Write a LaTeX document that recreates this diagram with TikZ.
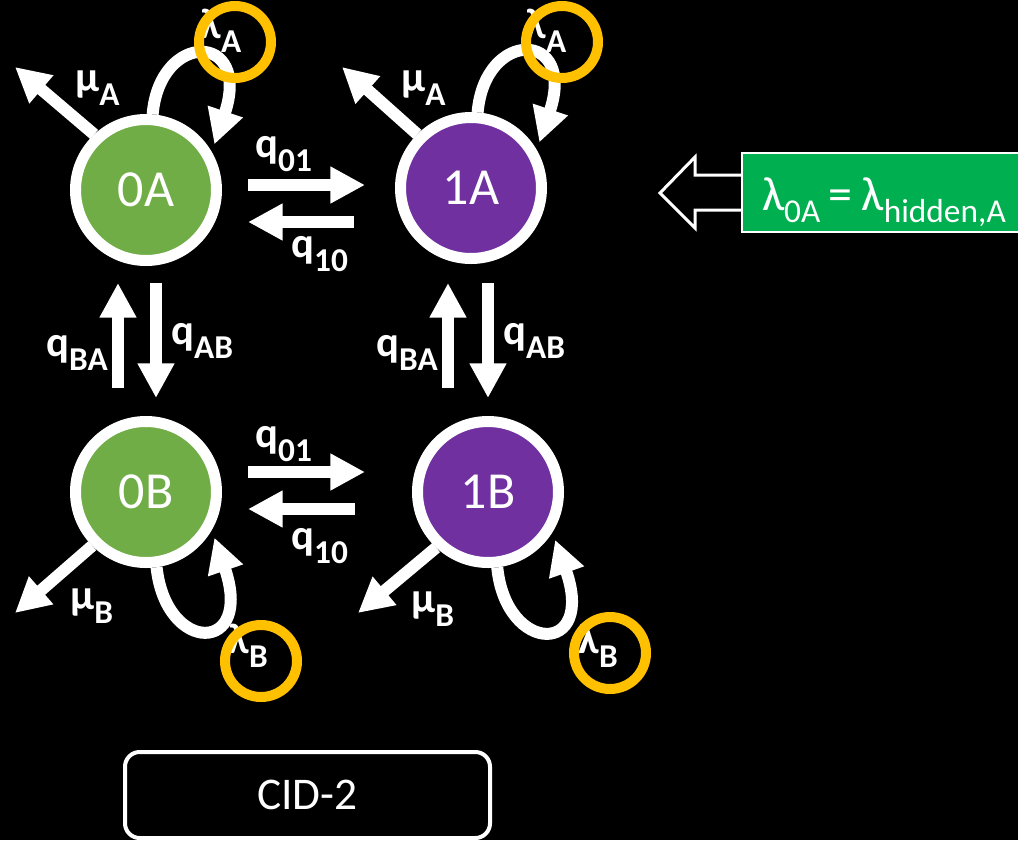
\documentclass[tikz,border=0pt]{standalone}
\usepackage{fontspec}
\setmainfont{Carlito}
\usetikzlibrary{arrows.meta}
\definecolor{stgreen}{HTML}{70AD47}
\definecolor{stpurple}{HTML}{7030A0}
\definecolor{ringgold}{HTML}{FFC000}
\definecolor{boxgreen}{HTML}{00B050}
\newcommand{\lo}[2][11pt]{\raisebox{-#1}{\fontsize{25}{29}\selectfont #2}}

\begin{document}
\begin{tikzpicture}[x=0.75pt,y=-0.75pt,
  statenode/.style={circle,draw=white,line width=8.25pt,minimum size=105.75pt,inner sep=0pt,
    text=white,font=\fontsize{39}{45}\selectfont},
  rate/.style={white,line width=9pt,-{Triangle[length=26pt,width=26pt]}},
  lab/.style={text=white,font=\bfseries\fontsize{32}{38}\selectfont,inner sep=0pt,anchor=base west},
  goldring/.style={draw=ringgold,line width=7.5pt},
  hidbox/.style={draw=white,line width=1.5pt,fill=boxgreen,text=white,anchor=west,
    font=\fontsize{36}{42}\selectfont,text height=42.75pt,text depth=16.5pt,inner ysep=0pt,
    inner xsep=15pt,text width=200pt,align=left},
  cidbox/.style={draw=white,line width=3pt,rounded corners=11pt,minimum width=273.75pt,
    minimum height=64.5pt,text=white,font=\fontsize{34}{40}\selectfont}]
  \useasboundingbox (0,0) rectangle (1018,840);
  \clip (0,0) rectangle (1018,840);
  \fill[black] (0,0) rectangle (1018,840);

  % states
  \node[statenode,fill=stgreen] (s0A) at (146,190) {0A};
  \node[statenode,fill=stpurple] (s1A) at (471,188) {1A};
  \node[statenode,fill=stgreen] (s0B) at (146,492) {0B};
  \node[statenode,fill=stpurple] (s1B) at (488,492) {1B};

  % switching between 0 and 1
  \draw[rate] ([shift={(26,-5)}]s0A.east) -- ([shift={(-30,-3)}]s1A.west);
  \draw[rate] ([shift={(-41,34)}]s1A.west) -- ([shift={(26,32)}]s0A.east);
  \draw[rate] ([shift={(26,-20)}]s0B.east) -- ([shift={(-47,-20)}]s1B.west);
  \draw[rate] ([shift={(-57,17)}]s1B.west) -- ([shift={(26,17)}]s0B.east);
  \node[lab] (q01a) at (255,157) {q\lo{01}};
  \node[lab] (q10a) at (291,257) {q\lo{10}};
  \node[lab] (q01b) at (255,447) {q\lo{01}};
  \node[lab] (q10b) at (291,549) {q\lo{10}};

  % switching between A and B
  \draw[rate] ([shift={(-28,-28)}]s0B.north) -- ([shift={(-28,17)}]s0A.south);
  \draw[rate] ([shift={(10,17)}]s0A.south) -- ([shift={(10,-18)}]s0B.north);
  \draw[rate] ([shift={(-40,-28)}]s1B.north) -- ([shift={(-23,19)}]s1A.south);
  \draw[rate] ([shift={(17,19)}]s1A.south) -- ([shift={(0,-18)}]s1B.north);
  \node[lab] (qBA0) at (46,356) {q\lo{BA}};
  \node[lab] (qAB0) at (171,344) {q\lo{AB}};
  \node[lab] (qBA1) at (376,356) {q\lo{BA}};
  \node[lab] (qAB1) at (503,344) {q\lo{AB}};

  % extinction
  \coordinate (outA0) at (15,67);
  \coordinate (outA1) at (342,67);
  \coordinate (outB0) at (15,613);
  \coordinate (outB1) at (358,613);
  \draw[rate] (s0A.133) -- (outA0);
  \draw[rate] (s1A.135) -- (outA1);
  \draw[rate] (s0B.225) -- (outB0);
  \draw[rate] (s1B.227) -- (outB1);
  \node[lab] (muA0) at (75,91) {μ\lo{A}};
  \node[lab] (muA1) at (401,91) {μ\lo{A}};
  \node[lab] (muB0) at (70,609) {μ\lo{B}};
  \node[lab] (muB1) at (411,612) {μ\lo{B}};

  % speciation
  \draw[rate,shorten >=6pt] (s0A.85) .. controls (160,30) and (252,32) .. (s0A.30);
  \draw[rate,shorten >=6pt] (s1A.85) .. controls (485,28) and (577,30) .. (s1A.30);
  \draw[rate,shorten >=6pt] (s0B.-82) .. controls (166,655) and (254,654) .. (s0B.-30);
  \draw[rate,shorten >=6pt] (s1B.-83) .. controls (506,655) and (596,656) .. (s1B.-32);
  \node[lab] (lamA0) at (200,38) {λ\lo{A}};
  \node[lab] (lamA1) at (525,38) {λ\lo{A}};
  \node[lab] (lamB0) at (228,653) {λ\lo{B}};
  \node[lab] (lamB1) at (578,653) {λ\lo{B}};
  \draw[goldring] (235,42) circle[radius=36];
  \draw[goldring] (562,42) circle[radius=36];
  \draw[goldring] (261,661) circle[radius=36];
  \draw[goldring] (610,653) circle[radius=36];

  % hidden rate
  \draw[white,line width=2.25pt,fill=black] (660,193) -- (695,157) -- (695,175) -- (750,175)
    -- (750,210) -- (695,210) -- (695,228) -- cycle;
  \node[hidbox] (hid) at (741,192.5) {λ\lo[9pt]{0A}\hspace{6pt}=\hspace{7pt}λ\lo[9pt]{hidden,A}};

  \node[cidbox] (cid) at (307.5,795) {CID-2};
\end{tikzpicture}
\end{document}
